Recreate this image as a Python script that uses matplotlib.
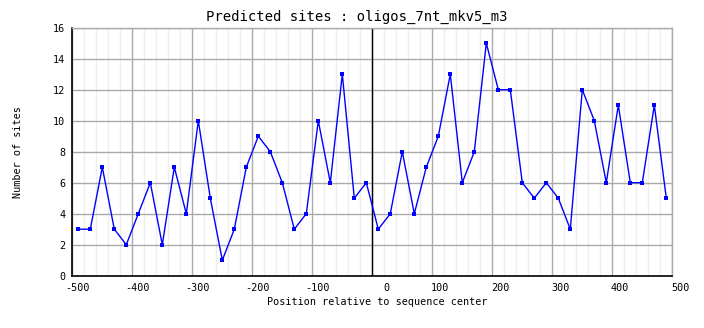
import numpy as np
import matplotlib
matplotlib.use("Agg")
import matplotlib.pyplot as plt
from matplotlib.transforms import ScaledTranslation

# Data
positions = list(range(-500, 500, 20))
counts = [3, 3, 7, 3, 2, 4, 6, 2, 7, 4,
          10, 5, 1, 3, 7, 9, 8, 6, 3, 4,
          10, 6, 13, 5, 6, 3, 4, 8, 4, 7,
          9, 13, 6, 8, 15, 12, 12, 6, 5, 6,
          5, 3, 12, 10, 6, 11, 6, 6, 11, 5]
xtick_values = [-500, -400, -300, -200, -100, 0, 100, 200, 300, 400, 500]
yticks = [0, 2, 4, 6, 8, 10, 12, 14, 16]

title = "Predicted sites : oligos_7nt_mkv5_m3"
xlabel = "Position relative to sequence center"
ylabel = "Number of sites"

W, H = 704, 328
dpi = 100
fig = plt.figure(figsize=(W / dpi, H / dpi), dpi=dpi)
fig.patch.set_facecolor("white")

left, right, top, bottom = 72.3, 672.3, 27.7, 275.7
ax = fig.add_axes([left / W, 1 - bottom / H, (right - left) / W, (bottom - top) / H])

mono = "DejaVu Sans Mono"

# grid positions (bin edges) are offset by half a bin from the positions
half = 10
xmin, xmax = positions[0] - half, positions[-1] + 20 - half
ax.set_xlim(xmin, xmax)
ax.set_ylim(0, 16)

major = np.arange(xmin, xmax + 1, 100)
minor = np.arange(xmin, xmax + 1, 20)
ax.set_xticks(major)
ax.set_xticks(minor, minor=True)
ax.set_xticklabels([])
ax.set_yticks(yticks)
ax.set_yticklabels([str(v) for v in yticks], fontfamily=mono, fontsize=7.3)

ax.tick_params(axis="both", which="both", length=0)
ax.tick_params(axis="y", pad=5)

# x tick labels: right-aligned slightly to the right of each position
trans = ax.get_xaxis_transform() + ScaledTranslation(11 / dpi, -12 / dpi, fig.dpi_scale_trans)
for v in xtick_values:
    ax.text(v, 0, str(v).replace("-", "\u2212") if False else str(v), transform=trans,
            ha="right", va="center", fontfamily=mono, fontsize=7.3, clip_on=False)

ax.grid(True, which="major", color="#aaaaaa", linewidth=1)
ax.grid(True, which="minor", axis="x", color="#eeeeee", linewidth=1)
ax.set_axisbelow(True)

for s in ["top", "right"]:
    ax.spines[s].set_color("#aaaaaa")
    ax.spines[s].set_linewidth(1)
for s in ["left", "bottom"]:
    ax.spines[s].set_color("black")
    ax.spines[s].set_linewidth(1.2)

ax.axvline(-10, color="black", linewidth=1, zorder=2)

ax.plot(positions, counts, color="#0000ff", linewidth=1, marker="s",
        markersize=2.6, markerfacecolor="#0000ff", markeredgewidth=0, zorder=3)

fig.text(357 / W, 1 - 17 / H, title, ha="center", va="center",
         fontfamily=mono, fontsize=10)
fig.text(377 / W, 1 - 302 / H, xlabel, ha="center", va="center",
         fontfamily=mono, fontsize=7.3)
fig.text(18 / W, 1 - 152 / H, ylabel, ha="center", va="center", rotation=90,
         fontfamily=mono, fontsize=7.3)

fig.savefig("out.png", dpi=dpi, facecolor="white")
